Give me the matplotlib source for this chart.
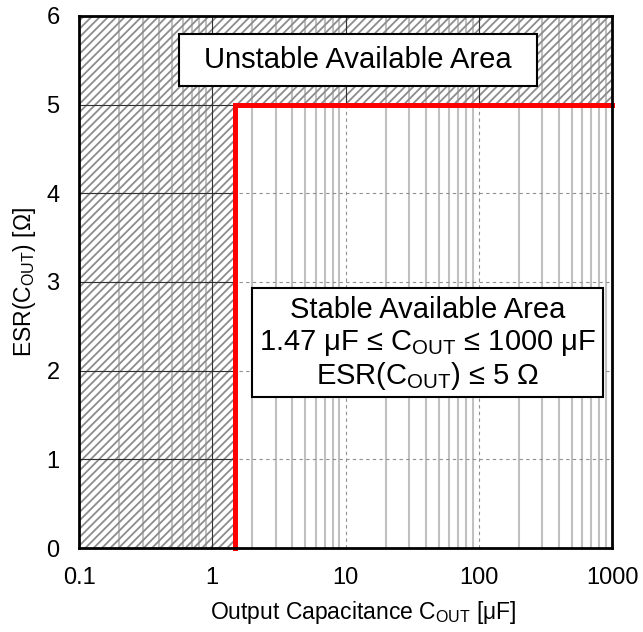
import matplotlib
matplotlib.use("Agg")
import matplotlib.pyplot as plt
from matplotlib.patches import Rectangle
from matplotlib.ticker import FixedLocator, NullFormatter

plt.rcParams['font.family'] = ['Liberation Sans', 'DejaVu Sans']
plt.rcParams['hatch.linewidth'] = 1.3
plt.rcParams['hatch.color'] = '#8c8c8c'
plt.rcParams['mathtext.fontset'] = 'custom'
plt.rcParams['mathtext.rm'] = 'Liberation Sans'

x_ticks = [0.1, 1, 10, 100, 1000]
x_tick_labels = ['0.1', '1', '10', '100', '1000']
y_ticks = [0, 1, 2, 3, 4, 5, 6]
c_min = 1.47
c_max = 1000
esr_max = 5
boundary_x = [c_min, c_min, c_max]
boundary_y = [0, esr_max, esr_max]

fig = plt.figure(figsize=(6.43, 6.32), dpi=100)
ax = fig.add_axes([0.1229, 0.1329, 0.8289, 0.8421])
ax.set_xscale('log')
ax.set_xlim(0.1, 1000)
ax.set_ylim(0, 6)

minors = [m * d for d in [0.1, 1, 10, 100] for m in range(2, 10)]
for xm in minors:
    ax.axvline(xm, color='#c0c0c0', lw=1.5, zorder=1)
for xv in [10, 100]:
    ax.axvline(xv, color='#909090', lw=0.8, ls=(0, (3, 3)), zorder=1)
for yv in [1, 2, 3, 4]:
    ax.axhline(yv, color='#909090', lw=0.8, ls=(0, (3, 3)), zorder=1)

r1 = Rectangle((0.1, 0), c_min - 0.1, 6, facecolor='none', edgecolor='#8c8c8c',
               hatch='////', lw=0, zorder=2)
r2 = Rectangle((c_min, esr_max), c_max - c_min, 6 - esr_max, facecolor='none',
               edgecolor='#8c8c8c', hatch='////', lw=0, zorder=2)
ax.add_patch(r1)
ax.add_patch(r2)

ax.plot([1, 1], [0, 6], color='#303030', lw=0.8, zorder=3)
ax.plot([10, 10], [esr_max, 6], color='#303030', lw=0.8, zorder=3)
ax.plot([100, 100], [esr_max, 6], color='#303030', lw=0.8, zorder=3)
for yv in [1, 2, 3, 4]:
    ax.plot([0.1, c_min], [yv, yv], color='#303030', lw=0.8, zorder=3)
ax.plot([0.1, c_max], [5, 5], color='#303030', lw=0.8, zorder=3)

ax.plot(boundary_x, boundary_y, color='#ff0000', lw=3.6, zorder=5,
        solid_joinstyle='miter', clip_on=False)

ax.add_patch(Rectangle((0.1876, 0.868), 0.8593 - 0.1876, 0.9656 - 0.868,
                       transform=ax.transAxes, fc='white', ec='black', lw=1.5, zorder=6))
ax.text(0.5235, 0.9168, 'Unstable Available Area', transform=ax.transAxes,
        ha='center', va='center', fontsize=21, zorder=7)
ax.add_patch(Rectangle((0.3246, 0.2837), 0.9831 - 0.3246, 0.4884 - 0.2837,
                       transform=ax.transAxes, fc='white', ec='black', lw=1.5, zorder=6))
stable_lines = ['Stable Available Area',
                '1.47 μF ≤ C$_{\\mathrm{OUT}}$ ≤ 1000 μF',
                'ESR(C$_{\\mathrm{OUT}}$) ≤ 5 Ω']
for i, s in enumerate(stable_lines):
    ax.text(0.6538, 0.4465 - i * 0.062, s, transform=ax.transAxes,
            ha='center', va='center', fontsize=21, zorder=7)

ax.xaxis.set_major_locator(FixedLocator(x_ticks))
ax.set_xticklabels(x_tick_labels)
ax.xaxis.set_minor_formatter(NullFormatter())
ax.set_yticks(y_ticks)
ax.tick_params(which='both', length=0, labelsize=17, pad=14)
for s in ax.spines.values():
    s.set_linewidth(2)
    s.set_zorder(8)

ax.set_xlabel('Output Capacitance C$_{\\mathrm{OUT}}$ [μF]', fontsize=16.5, labelpad=5)
ax.xaxis.set_label_coords(0.533, -0.095)
ax.set_ylabel('ESR(C$_{\\mathrm{OUT}}$) [Ω]', fontsize=16.5, labelpad=6)

fig.savefig('out.png', dpi=100)
